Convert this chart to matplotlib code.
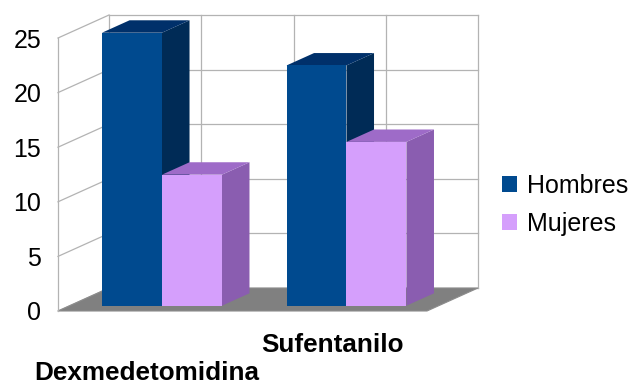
import matplotlib
matplotlib.use('Agg')
import matplotlib.pyplot as plt
from matplotlib.patches import Polygon, Patch
from matplotlib.transforms import ScaledTranslation

categories = ['Dexmedetomidina', 'Sufentanilo']
series_names = ['Hombres', 'Mujeres']
hombres = [25, 22]
mujeres = [12, 15]
y_ticks = [0, 5, 10, 15, 20, 25]

plt.rcParams['font.family'] = ['Liberation Sans', 'DejaVu Sans']

W, H = 629, 385
fig = plt.figure(figsize=(W / 100, H / 100), dpi=100)
# front plane of the 3D box
L, R, B, T = 58, 427, 311, 38
ax = fig.add_axes([L / W, (H - B) / H, (R - L) / W, (B - T) / H])
ax.set_xlim(0, len(categories))
ax.set_ylim(0, 25)

# oblique depth vector (pixels) converted to data units
px_x = (R - L) / len(categories)
px_y = (B - T) / 25
DX = 51 / px_x
DY = 23 / px_y


def P(x, y, z):
    return (x + z * DX, y + z * DY)


grid_c = '#b3b3b3'
ymax = 25
nx = len(categories)

# floor
ax.add_patch(Polygon([P(0, 0, 0), P(nx, 0, 0), P(nx, 0, 1), P(0, 0, 1)],
                     closed=True, fc='#808080', ec='#8c8c8c', lw=0.8,
                     clip_on=False, zorder=1))
# wall gridlines
for v in y_ticks:
    xs, ys = zip(P(0, v, 1), P(nx, v, 1))
    ax.plot(xs, ys, color=grid_c, lw=0.9, clip_on=False, zorder=0.5)
    xs, ys = zip(P(0, v, 0), P(0, v, 1))
    ax.plot(xs, ys, color=grid_c, lw=0.9, clip_on=False, zorder=0.5)
for xv in [0, 0.5, 1, 1.5, 2]:
    xs, ys = zip(P(xv, 0, 1), P(xv, ymax, 1))
    ax.plot(xs, ys, color=grid_c, lw=0.9, clip_on=False, zorder=0.5)

# bars
bw = 0.325
z0, z1 = 0.23, 0.77
series = [hombres, mujeres]
face_cols = [('#004a8f', '#00306a', '#002b56'),
             ('#d59ffc', '#9e6bc8', '#8a5db0')]
order = 2
for ci in range(nx):
    c = ci + 0.5
    for si, vals in enumerate(series):
        x0 = c - bw + si * bw
        x1 = x0 + bw
        v = vals[ci]
        front, top, side = face_cols[si]
        ax.add_patch(Polygon([P(x1, 0, z0), P(x1, 0, z1), P(x1, v, z1), P(x1, v, z0)],
                             closed=True, fc=side, ec='none', clip_on=False, zorder=order))
        ax.add_patch(Polygon([P(x0, v, z0), P(x1, v, z0), P(x1, v, z1), P(x0, v, z1)],
                             closed=True, fc=top, ec='none', clip_on=False, zorder=order))
        ax.add_patch(Polygon([P(x0, 0, z0), P(x1, 0, z0), P(x1, v, z0), P(x0, v, z0)],
                             closed=True, fc=front, ec='none', clip_on=False, zorder=order + 0.1))
        order += 1

# axes styling
for s in ['top', 'right', 'bottom']:
    ax.spines[s].set_visible(False)
ax.spines['left'].set_color(grid_c)
ax.spines['left'].set_linewidth(0.9)
ax.set_yticks(y_ticks)
ax.tick_params(axis='y', length=0, pad=12, labelsize=18)
ax.set_xticks([i + 0.5 for i in range(nx)])
ax.set_xticklabels(categories, fontsize=18.8, fontweight='bold')
ax.tick_params(axis='x', length=0)
ticks = ax.xaxis.get_major_ticks()
ticks[0].set_pad(36)
ticks[1].set_pad(15.5)
ticks[0].label1.set_transform(ticks[0].label1.get_transform()
                              + ScaledTranslation(-4 / 100, 0, fig.dpi_scale_trans))
ticks[1].label1.set_transform(ticks[1].label1.get_transform()
                              + ScaledTranslation(-2 / 100, 0, fig.dpi_scale_trans))
ax.patch.set_visible(False)

handles = [Patch(fc=face_cols[0][0], ec='none'), Patch(fc=face_cols[1][0], ec='none')]
fig.legend(handles, series_names, loc='upper left',
           bbox_to_anchor=(502 / W, 1 - 174 / H), frameon=False, fontsize=18,
           handlelength=0.6, handleheight=0.6, handletextpad=0.4,
           labelspacing=0.55, borderpad=0, borderaxespad=0)

fig.savefig('out.png', dpi=100)
